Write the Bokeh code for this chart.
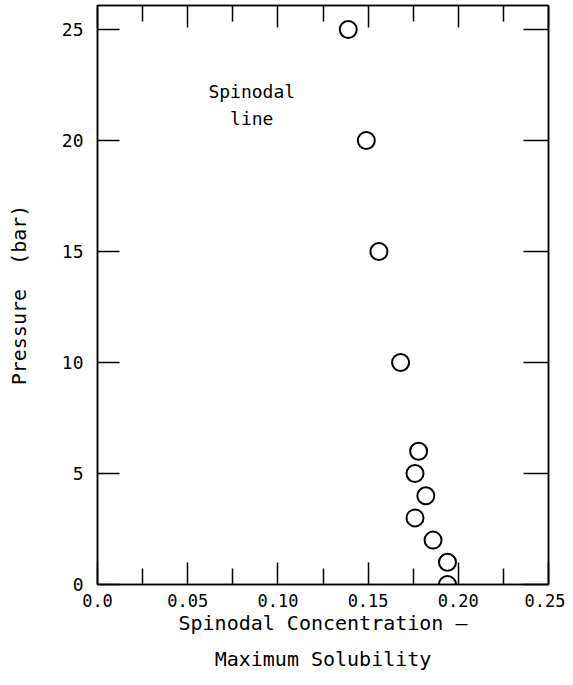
from bokeh.plotting import figure
from bokeh.models import Range1d, LinearAxis, FixedTicker, Title, ColumnDataSource
from bokeh.core.properties import value
from bokeh.embed import file_html
from bokeh.resources import INLINE

# Data
pressure = [25, 20, 15, 10, 6, 5, 4, 3, 2, 1, 0]
concentration = [0.139, 0.149, 0.156, 0.168, 0.178, 0.176, 0.182, 0.176, 0.186, 0.194, 0.194]

x_ticks = [0.0, 0.05, 0.10, 0.15, 0.20, 0.25]
x_tick_labels = ["0.0", "0.05", "0.10", "0.15", "0.20", "0.25"]
x_minor = [0.025, 0.075, 0.125, 0.175, 0.225]
y_ticks = [0, 5, 10, 15, 20, 25]
y_tick_labels = ["0", "5", "10", "15", "20", "25"]

annot_text = ["Spinodal", "line"]
annot_x = [0.0855, 0.0855]
annot_y = [22.2, 21.0]

FONT = "DejaVu Sans Mono"

p = figure(width=565, height=680, output_backend="svg", toolbar_location=None,
           x_range=Range1d(0, 0.25), y_range=Range1d(0, 26.08),
           x_axis_location=None, y_axis_location=None,
           min_border_left=97, min_border_right=17, min_border_top=5, min_border_bottom=96)
p.grid.visible = False
p.outline_line_color = "black"
p.outline_line_width = 1.5
p.background_fill_color = "white"
p.border_fill_color = "white"

xt = FixedTicker(ticks=x_ticks, minor_ticks=x_minor)
yt = FixedTicker(ticks=y_ticks, minor_ticks=[])

def style(ax, labels=True):
    ax.axis_line_color = "black"
    ax.axis_line_width = 1.5
    ax.major_tick_line_color = "black"
    ax.major_tick_line_width = 1.5
    ax.minor_tick_line_color = "black"
    ax.minor_tick_line_width = 1.5
    ax.major_tick_out = 0
    ax.minor_tick_out = 0
    ax.major_label_text_font = FONT
    ax.major_label_text_font_size = "17px"
    ax.major_label_text_color = "black" if labels else None
    ax.axis_label_text_font = FONT
    ax.axis_label_text_font_style = "normal"
    ax.axis_label_text_font_size = "20px"
    ax.axis_label_text_color = "black"

xb = LinearAxis(ticker=xt, axis_label="Spinodal Concentration \u2013")
style(xb)
xb.major_tick_in = 22
xb.minor_tick_in = 16
xb.major_label_standoff = 9
xb.axis_label_standoff = 1
xb.major_label_overrides = {t: l for t, l in zip(x_ticks, x_tick_labels)}
p.add_layout(xb, "below")

t2 = Title(text="Maximum Solubility", align="center", text_font=FONT,
           text_font_size="20px", text_font_style="normal", text_color="black",
           standoff=14, offset=0)
p.add_layout(t2, "below")

xtp = LinearAxis(ticker=xt)
style(xtp, labels=False)
xtp.major_tick_in = 22
xtp.minor_tick_in = 16
xtp.major_label_text_font_size = "0px"
xtp.major_label_standoff = 0
p.add_layout(xtp, "above")

yl = LinearAxis(ticker=yt, axis_label="Pressure\u00a0 (bar)")
style(yl)
yl.major_label_text_font_size = "18px"
yl.major_tick_in = 22
yl.minor_tick_in = 0
yl.major_label_standoff = 14
yl.axis_label_standoff = 28
yl.major_label_overrides = {t: l for t, l in zip(y_ticks, y_tick_labels)}
p.add_layout(yl, "left")

yr = LinearAxis(ticker=yt)
style(yr, labels=False)
yr.major_tick_in = 25
yr.minor_tick_in = 0
yr.major_label_text_font_size = "0px"
yr.major_label_standoff = 0
p.add_layout(yr, "right")

src = ColumnDataSource(dict(x=concentration, y=pressure))
p.scatter("x", "y", source=src, marker="circle", size=17, fill_color=None,
          line_color="black", line_width=2)

p.text(x=annot_x, y=annot_y, text=annot_text, text_font=value(FONT),
       text_font_size="18px", text_align="center", text_baseline="middle",
       text_color="black")

open("out.html", "w").write(file_html(p, INLINE))
